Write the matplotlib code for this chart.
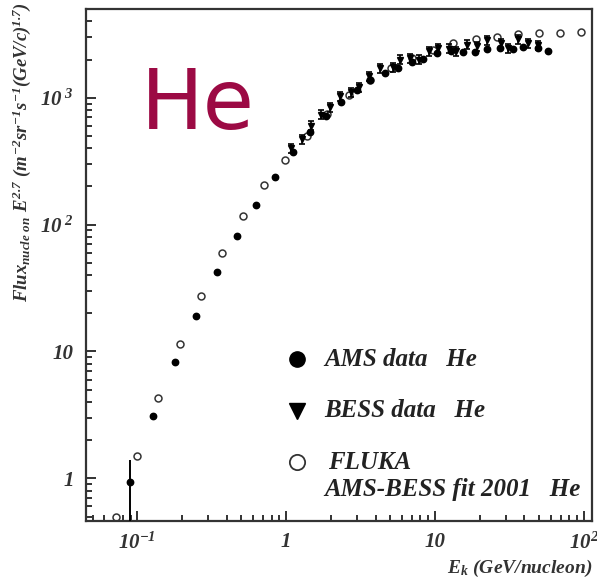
import matplotlib
matplotlib.use('Agg')
import matplotlib.pyplot as plt
from matplotlib.ticker import NullFormatter, LogLocator

plt.rcParams['font.family'] = 'Liberation Serif'
plt.rcParams['mathtext.fontset'] = 'custom'
plt.rcParams['mathtext.rm'] = 'Liberation Serif:italic:bold'
plt.rcParams['mathtext.it'] = 'Liberation Serif:italic:bold'
plt.rcParams['mathtext.bf'] = 'Liberation Serif:italic:bold'

# AMS data He (filled circles)
ams_e = [0.0886, 0.128, 0.179, 0.248, 0.342, 0.466, 0.628, 0.841, 1.108, 1.447,
         1.854, 2.327, 2.982, 3.663, 4.62, 5.68, 6.98, 8.36, 10.3, 12.8,
         15.4, 18.6, 22.4, 27.4, 33.3, 39.3, 49.5, 57.8]
ams_flux = [0.935, 3.10, 8.26, 19.0, 42.0, 81.6, 143, 237, 373, 537,
            718, 930, 1150, 1379, 1557, 1723, 1901, 2018, 2239, 2333,
            2305, 2305, 2442, 2452, 2406, 2524, 2452, 2330]
ams_err_lo = [0.6] + [0] * 27
ams_err_hi = [0.47] + [0] * 27

# BESS data He (down triangles)
bess_e = [1.074, 1.273, 1.470, 1.708, 1.972, 2.302, 2.731, 3.104, 3.623, 4.276,
          5.205, 5.829, 6.80, 7.86, 9.17, 10.54, 12.5, 13.9, 16.4, 19.1,
          22.5, 27.7, 31.1, 36.4, 42.4, 49.5]
bess_flux = [401, 473, 602, 735, 845, 1026, 1109, 1214, 1474, 1714,
             1736, 1992, 2055, 1992, 2321, 2464, 2432, 2321, 2617, 2560,
             2849, 2698, 2464, 2901, 2698, 2602]
bess_rel_err = 0.08

# FLUKA AMS-BESS fit 2001 He (open circles)
fluka_e = [0.0719, 0.0995, 0.138, 0.193, 0.267, 0.371, 0.513, 0.711, 0.985, 1.38,
           1.88, 2.65, 3.67, 5.07, 7.02, 9.71, 13.2, 18.9, 26.1, 36.2,
           50.1, 69.3, 96.0]
fluka_flux = [0.493, 1.50, 4.28, 11.4, 27.4, 59.7, 116, 204, 325, 499,
              744, 1050, 1380, 1710, 2055, 2375, 2690, 2900, 3030, 3160,
              3220, 3220, 3275]

xtick_vals = [0.1, 1, 10, 100]
xtick_labels = ['10$^{-1}$', '1', '10', '10$^{2}$']
ytick_vals = [1, 10, 100, 1000]
ytick_labels = ['1', '10', '10$^{\\ 2}$', '10$^{\\ 3}$']

fig = plt.figure(figsize=(5.97, 5.82), dpi=100)
ax = fig.add_axes([0.1441, 0.1048, 0.8475, 0.8797])
ax.set_xscale('log')
ax.set_yscale('log')
ax.set_xlim(0.0452, 113.7)
ax.set_ylim(0.461, 5000)

ax.plot(fluka_e, fluka_flux, 'o', ms=5, mfc='white', mec='#333333', mew=1.1, zorder=2)
ax.errorbar(ams_e, ams_flux, yerr=[ams_err_lo, ams_err_hi], fmt='o', ms=4.6,
            color='black', ecolor='black', elinewidth=1.4, capsize=0, zorder=3)
bess_err = [f * bess_rel_err for f in bess_flux]
ax.errorbar(bess_e, bess_flux, yerr=bess_err, fmt='v', ms=4, color='black',
            elinewidth=1.2, capsize=2, capthick=1.2, zorder=4)

# axes styling
for s in ax.spines.values():
    s.set_linewidth(1.6)
    s.set_color('#333333')
ax.tick_params(which='both', direction='in', colors='#222222', width=1.3)
ax.tick_params(which='major', length=7)
ax.tick_params(which='minor', length=4)
ax.set_xticks(xtick_vals, xtick_labels)
ax.set_yticks(ytick_vals, ytick_labels)
ax.xaxis.set_minor_locator(LogLocator(base=10, subs=range(2, 10), numticks=20))
ax.yaxis.set_minor_locator(LogLocator(base=10, subs=range(2, 10), numticks=20))
ax.xaxis.set_minor_formatter(NullFormatter())
ax.yaxis.set_minor_formatter(NullFormatter())
ax.tick_params(axis='both', which='major', labelsize=15, labelcolor='#333333')
ax.tick_params(axis='y', pad=9)
ax.tick_params(axis='x', pad=8)
for lab in ax.get_xticklabels() + ax.get_yticklabels():
    lab.set_fontstyle('italic')
    lab.set_fontweight('bold')

# axis titles
fig.text(22 / 597, 1 - 152 / 582,
         r'$Flux_{nucle\ on}\ E^{2.7}\ (m^{-2}sr^{-1}s^{-1}(GeV/c)^{1.7})$',
         rotation=90, ha='center', va='center', fontsize=13.5, color='#333333')
fig.text(592 / 597, 1 - 568 / 582, r'$E_k\ (GeV/nucleon)$', ha='right',
         va='center', fontsize=14, color='#333333')

# legend (drawn by hand)
leg_kw = dict(transform=ax.transAxes, fontsize=18, fontstyle='italic',
              fontweight='bold', color='#222222', va='center', ha='left')
ax.plot([0.416], [0.316], 'o', ms=11, color='black', transform=ax.transAxes, clip_on=False)
ax.plot([0.416], [0.215], 'v', ms=11, color='black', transform=ax.transAxes, clip_on=False)
ax.plot([0.416], [0.115], 'o', ms=11, mfc='white', mec='#333333', mew=1.3,
        transform=ax.transAxes, clip_on=False)
ax.text(0.470, 0.316, 'AMS data   He', **leg_kw)
ax.text(0.470, 0.215, 'BESS data   He', **leg_kw)
ax.text(0.478, 0.115, 'FLUKA', **leg_kw)
ax.text(0.470, 0.062, 'AMS-BESS fit 2001   He', **leg_kw)

# big label
fig.text(141 / 597, 1 - 106 / 582, 'He', fontsize=60, color='#9c0a44',
         family='DejaVu Sans', ha='left', va='center')

fig.savefig('out.png', dpi=100)
